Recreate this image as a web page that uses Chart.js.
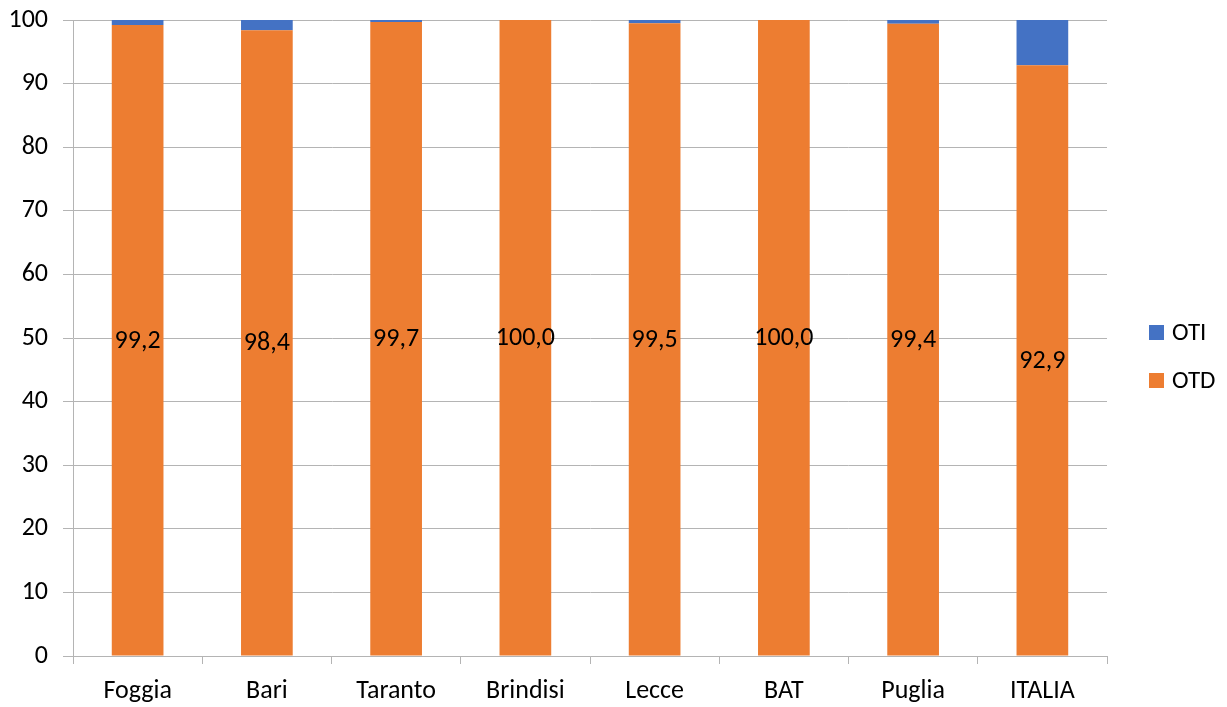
<!DOCTYPE html>
<html>
<head>
<meta charset="utf-8">
<script src="https://cdn.jsdelivr.net/npm/chart.js@4/dist/chart.umd.min.js"></script>
<style>
  html, body { margin: 0; padding: 0; background: #fff; }
  #wrap { width: 1227px; height: 707px; position: relative; }
</style>
</head>
<body>
<div id="wrap"><canvas id="c"></canvas></div>
<script>
const categories = ['Foggia', 'Bari', 'Taranto', 'Brindisi', 'Lecce', 'BAT', 'Puglia', 'ITALIA'];
const otdValues = [99.2, 98.4, 99.7, 100.0, 99.5, 100.0, 99.4, 92.9];
const otiValues = [0.8, 1.6, 0.3, 0.0, 0.5, 0.0, 0.6, 7.1];
const yTicks = [0, 10, 20, 30, 40, 50, 60, 70, 80, 90, 100];

const ORANGE = '#ED7D31';
const BLUE = '#4472C4';
const GRID = '#b4b4b4';
const FONT = 'Carlito, Lato, "Liberation Sans", sans-serif';

const fmt = v => v.toFixed(1).replace('.', ',');

// Value labels centred on the OTD segments
const valueLabels = {
  id: 'valueLabels',
  afterDatasetsDraw(chart) {
    const ctx = chart.ctx;
    const meta = chart.getDatasetMeta(0);
    ctx.save();
    ctx.font = '26px ' + FONT;
    ctx.fillStyle = '#000';
    ctx.textAlign = 'center';
    ctx.textBaseline = 'middle';
    meta.data.forEach((bar, i) => {
      const y = (bar.y + bar.base) / 2;
      ctx.fillText(fmt(otdValues[i]), bar.x, y + 1);
    });
    ctx.restore();
  }
};

// Legend on the right, OTI listed above OTD
const sideLegend = {
  id: 'sideLegend',
  afterDraw(chart) {
    const ctx = chart.ctx;
    const items = [{ label: 'OTI', color: BLUE }, { label: 'OTD', color: ORANGE }];
    const x = 1149, y0 = 332.5, gap = 48, box = 15;
    ctx.save();
    ctx.font = '25px ' + FONT;
    ctx.textBaseline = 'middle';
    ctx.textAlign = 'left';
    items.forEach((it, i) => {
      const cy = y0 + i * gap;
      ctx.fillStyle = it.color;
      ctx.fillRect(x, cy - box / 2, box, box);
      ctx.fillStyle = '#000';
      ctx.fillText(it.label, x + 23, cy + 1);
    });
    ctx.restore();
  }
};

new Chart(document.getElementById('c'), {
  type: 'bar',
  data: {
    labels: categories,
    datasets: [
      { label: 'OTD', data: otdValues, backgroundColor: ORANGE, categoryPercentage: 1, barPercentage: 0.4 },
      { label: 'OTI', data: otiValues, backgroundColor: BLUE, categoryPercentage: 1, barPercentage: 0.4 }
    ]
  },
  options: {
    responsive: true,
    maintainAspectRatio: false,
    animation: false,
    layout: { padding: { left: 0, right: 120, top: 20, bottom: 0 } },
    plugins: {
      legend: { display: false },
      tooltip: { enabled: false }
    },
    scales: {
      x: {
        stacked: true,
        offset: true,
        grid: {
          offset: true,
          drawOnChartArea: false,
          drawTicks: true,
          tickLength: 8,
          color: GRID
        },
        border: { color: GRID, width: 1 },
        ticks: { color: '#000', font: { family: FONT, size: 26 }, padding: 12 },
        afterFit(scale) {
          scale.height = 51;
          scale.paddingLeft = 0;
          scale.paddingRight = 0;
        }
      },
      y: {
        stacked: true,
        min: 0,
        max: 100,
        afterBuildTicks(scale) { scale.ticks = yTicks.map(v => ({ value: v })); },
        grid: { color: GRID, tickLength: 10 },
        border: { color: GRID, width: 1 },
        ticks: { color: '#000', font: { family: FONT, size: 26 }, padding: 15 },
        afterFit(scale) {
          scale.width = 73;
          scale.paddingTop = 0;
          scale.paddingBottom = 0;
        }
      }
    }
  },
  plugins: [valueLabels, sideLegend]
});
</script>
</body>
</html>
